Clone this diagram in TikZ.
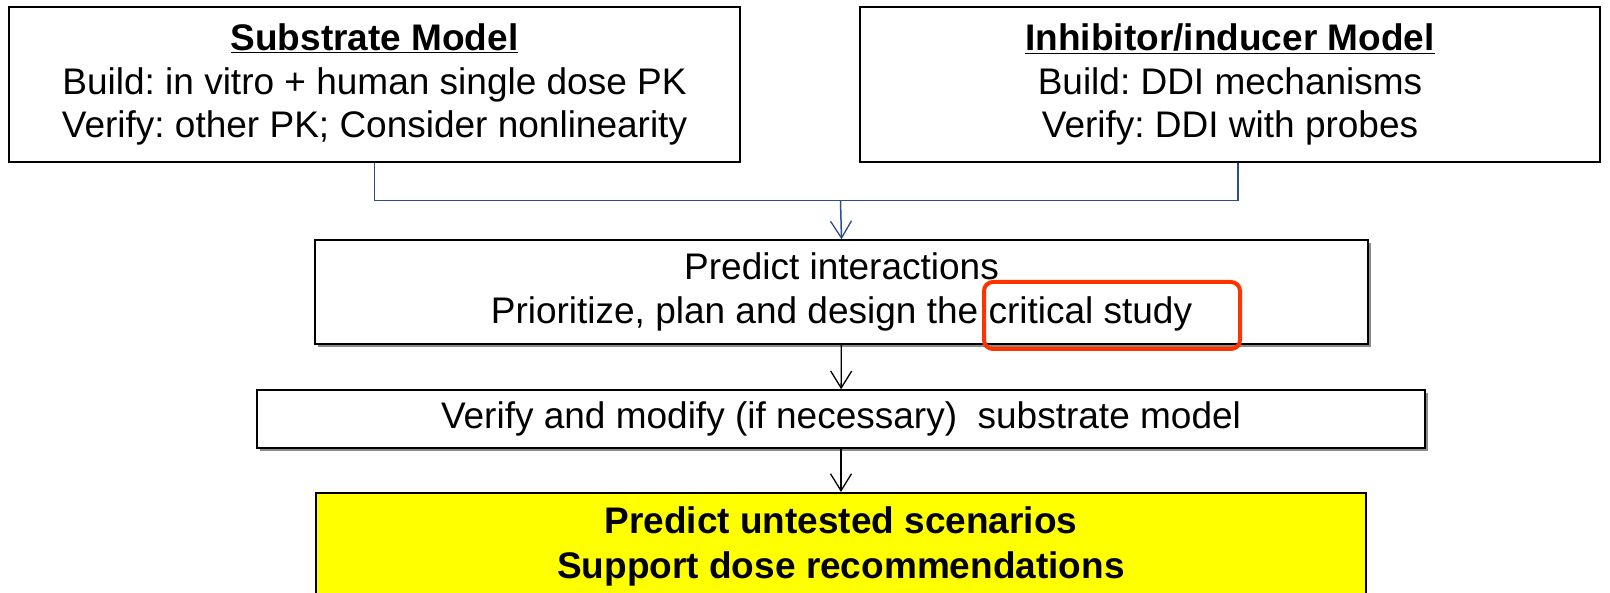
\documentclass[tikz,border=0pt]{standalone}
\usepackage{fontspec}
\setmainfont{Liberation Sans}
\usetikzlibrary{arrows.meta, positioning, shadows}
\frenchspacing
\definecolor{linkblue}{RGB}{44, 79, 140}
\definecolor{markred}{RGB}{255, 51, 0}
\definecolor{resultyellow}{RGB}{255, 255, 0}
\tikzset{
    modelbox/.style={
        rectangle,
        draw=black,
        fill=white,
        line width=2pt,
        inner sep=0pt,
        align=center,
        font=\fontsize{37}{43.5}\selectfont
    },
    stepbox/.style={
        modelbox,
        line width=1.5pt,
        drop shadow={shadow xshift=3pt, shadow yshift=-3pt, fill=black!45, opacity=1}
    },
    resultbox/.style={
        modelbox,
        fill=resultyellow,
        font=\fontsize{37}{45}\selectfont\bfseries
    },
    feed/.style={
        draw=linkblue,
        line width=1.5pt
    },
    flow/.style={
        -{Straight Barb[length=17pt, width=21pt, line width=1.3pt]},
        line width=1.3pt
    }
}

\begin{document}
\begin{tikzpicture}[x=1pt, y=-1pt]
    \useasboundingbox (0,0) rectangle (1610,593);
    \clip (0,0) rectangle (1610,593);
    % the two model boxes on top
    \node[modelbox, minimum width=731pt, minimum height=155pt] (subm) at (374.5,84.5)
        {\underline{\textbf{Substrate Model}}\\Build: in vitro + human single dose PK\\Verify: other PK; Consider nonlinearity};
    \node[modelbox, minimum width=740pt, minimum height=155pt] (inhm) at (1230,84.5)
        {\underline{\textbf{Inhibitor/inducer Model}}\\Build: DDI mechanisms\\Verify: DDI with probes};
    % pipeline running downward
    \node[stepbox, minimum width=1053pt, minimum height=104pt] (pred) at (841.5,292)
        {Predict interactions\\Prioritize, plan and design the critical study};
    \node[stepbox, minimum width=1168pt, minimum height=58pt] (verify) at (841,419)
        {Verify and modify (if necessary)\ \ substrate model};
    \node[resultbox, minimum width=1050pt, minimum height=107pt] (result) at (841,546.5)
        {Predict untested scenarios\\Support dose recommendations};
    % highlight round the key words
    \node[draw=markred, line width=4pt, rounded corners=9pt,
          minimum width=256pt, minimum height=67pt] (hilite) at (1112,315.5) {};

    \coordinate (join) at (840.5,200.5);
    \draw[feed] (subm.south) |- (join);
    \draw[feed] ([xshift=8pt]inhm.south) |- (join);
    \path[flow]
        (join)   edge[draw=linkblue, line width=1.5pt] (pred.north)
        (pred)   edge (verify)
        (verify) edge (result);
\end{tikzpicture}
\end{document}
